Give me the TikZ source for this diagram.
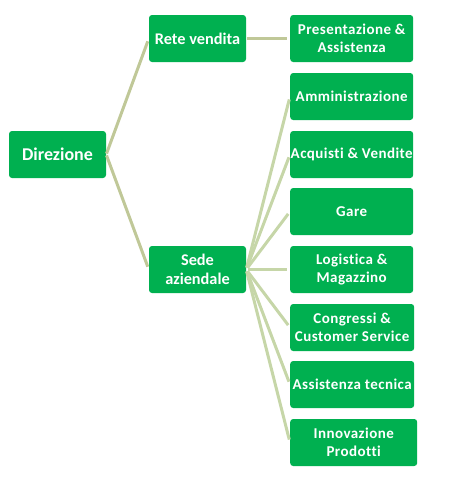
\documentclass[tikz,border=0pt]{standalone}
\usepackage{fontspec}
\setmainfont{Carlito}
\newfontfamily\leaffont[LetterSpace=3,Ligatures=NoCommon]{Carlito}
\usetikzlibrary{positioning}
\definecolor{boxGreen}{RGB}{0,176,80}
\definecolor{linkOlive}{RGB}{192,200,152}
\definecolor{linkSage}{RGB}{198,214,168}

\begin{document}
\begin{tikzpicture}[x=1pt,y=-1pt,
    box/.style={fill=boxGreen, rounded corners=3pt, text=white, align=center,
      inner sep=0pt, minimum height=47pt},
    topbox/.style={box, minimum width=97pt, font=\bfseries\fontsize{18}{20}\selectfont},
    midbox/.style={box, minimum width=97pt, font=\bfseries\fontsize{16.3}{18.7}\selectfont},
    leafbox/.style={box, anchor=west, minimum width=123pt, font=\leaffont\bfseries\fontsize{15}{17.6}\selectfont},
    link/.style={line width=3pt, linkOlive, shorten <=1pt, shorten >=3pt},
    leaflink/.style={line width=3pt, linkSage, shorten <=2pt, shorten >=3pt}]
  \useasboundingbox (0,0) rectangle (454,482);
  \node[topbox] (direzione) at (57.5,154.5) {Direzione};
  \node[midbox] (rete) at (197.5,38.5) {Rete vendita};
  \node[midbox] (sede) at (197.5,269.5) {Sede\\aziendale};
  \node[leafbox] (presentazione) at (290,38.5) {Presentazione \&\\Assistenza};
  \node[leafbox] (amministrazione) at (290,96.5) {Amministrazione};
  \node[leafbox] (acquisti) at (290,154.5) {Acquisti \& Vendite};
  \node[leafbox] (gare) at (290,211.5) {Gare};
  \node[leafbox] (logistica) at (290,269.5) {Logistica \&\\Magazzino};
  \node[leafbox, minimum width=124pt] (congressi) at (290,327.5) {Congressi \&\\Customer Service};
  \node[leafbox, minimum width=124pt] (tecnica) at (290,384.5) {Assistenza tecnica};
  \node[leafbox, minimum width=127pt] (innovazione) at (290,442.5) {Innovazione\\Prodotti};
  % links
  \draw[link] (direzione.east) -- (rete.west);
  \draw[link] (direzione.east) -- (sede.west);
  \draw[link] (rete.east) -- (presentazione.west);
  \draw[leaflink] (sede.east) -- (amministrazione.west);
  \draw[leaflink] (sede.east) -- (acquisti.west);
  \draw[leaflink] (sede.east) -- (gare.west);
  \draw[leaflink] (sede.east) -- (logistica.west);
  \draw[leaflink] (sede.east) -- (congressi.west);
  \draw[leaflink] (sede.east) -- (tecnica.west);
  \draw[leaflink] (sede.east) -- (innovazione.west);
\end{tikzpicture}
\end{document}
